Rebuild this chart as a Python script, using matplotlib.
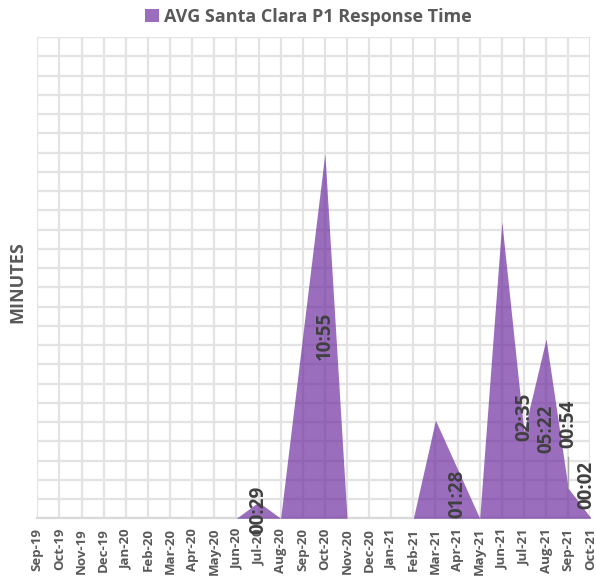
import matplotlib
matplotlib.use("Agg")
import matplotlib.pyplot as plt
import numpy as np

plt.rcParams["font.family"] = ["Open Sans", "DejaVu Sans"]

# Monthly average P1 response time, in seconds
months = [
    "Sep-19", "Oct-19", "Nov-19", "Dec-19", "Jan-20", "Feb-20", "Mar-20",
    "Apr-20", "May-20", "Jun-20", "Jul-20", "Aug-20", "Sep-20", "Oct-20",
    "Nov-20", "Dec-20", "Jan-21", "Feb-21", "Mar-21", "Apr-21", "May-21",
    "Jun-21", "Jul-21", "Aug-21", "Sep-21", "Oct-21",
]
response_sec = [
    0, 0, 0, 0, 0, 0, 0,
    0, 0, 0, 29, 0, 328, 655,
    0, 0, 0, 0, 176, 88, 0,
    532, 155, 322, 54, 2,
]

# months that carry a data label
labelled = ["Jul-20", "Oct-20", "Apr-21", "Jul-21", "Aug-21", "Sep-21", "Oct-21"]
# labels dragged away from their default spot (centre of the area): y in seconds
moved_labels = {"Jul-21": 182, "Sep-21": 169, "Oct-21": 60}

SERIES_NAME = "AVG Santa Clara P1 Response Time"
Y_MAX = 864          # 0.01 day in the sheet's time units
N_GRID = 25

PURPLE = "#7030A0"
GRID = "#E3E3E3"
TEXT = "#595959"
LABEL = "#404040"


def mmss(sec):
    return f"{int(sec) // 60:02d}:{int(sec) % 60:02d}"


W, H = 596, 577
fig = plt.figure(figsize=(W / 100, H / 100), dpi=100)
left, right, top, bottom = 37.3, 590.3, 37.0, 518.25
ax = fig.add_axes([left / W, 1 - bottom / H, (right - left) / W, (bottom - top) / H])

x = np.arange(len(months))
ax.fill_between(x, response_sec, 0, color=PURPLE, alpha=0.70, linewidth=0, zorder=3)

ax.set_xlim(0, len(months) - 1)
ax.set_ylim(0, Y_MAX)
ax.set_xticks(x)
ax.set_xticklabels(months, rotation=90, fontsize=9.5, fontweight="bold", color=TEXT)
ax.set_yticks(np.linspace(0, Y_MAX, N_GRID + 1))
ax.set_yticklabels([])
ax.tick_params(axis="both", length=0)
ax.tick_params(axis="x", pad=7)
ax.grid(True, color=GRID, linewidth=1.6, zorder=0)
ax.set_axisbelow(True)
for side in ["top", "right", "left"]:
    ax.spines[side].set_visible(False)
ax.spines["bottom"].set_color("#D9D9D9")
ax.spines["bottom"].set_linewidth(1.6)

ax.set_ylabel("MINUTES", fontsize=13, fontweight="bold", color=TEXT)
ax.yaxis.set_label_coords(-0.02, 0.49)

for m in labelled:
    i = months.index(m)
    v = response_sec[i]
    y = moved_labels.get(m, v / 2)
    xi = i - 0.18 if i == len(months) - 1 else i
    ax.text(xi, y, mmss(v), rotation=90, ha="center", va="center",
            fontsize=13.5, fontweight="bold", color=LABEL, zorder=5, clip_on=False)

# leader line for the label lifted above Sep-21
i = months.index("Sep-21")
ax.plot([i, i], [response_sec[i], 110], color="#A6A6A6", linewidth=1, zorder=4)

# legend above the plot
handle = plt.Rectangle((0, 0), 1, 1, color=PURPLE, alpha=0.70, linewidth=0)
fig.legend([handle], [SERIES_NAME], loc="center", bbox_to_anchor=(0.518, 1 - 16.5 / H),
           frameon=False, handlelength=0.75, handleheight=0.75, handletextpad=0.3,
           prop={"size": 13, "weight": "bold"}, labelcolor=TEXT)

fig.savefig("out.png", dpi=100)
